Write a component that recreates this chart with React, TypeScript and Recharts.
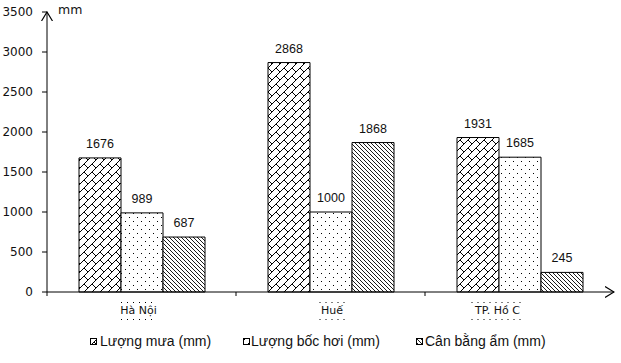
import { BarChart, Bar, XAxis, YAxis, LabelList } from "recharts";

const cities = ["Hà Nội", "Huế", "TP. Hồ C"];
const rainfall = [1676, 2868, 1931];
const evaporation = [989, 1000, 1685];
const balance = [687, 1868, 245];
const yTicks = [0, 500, 1000, 1500, 2000, 2500, 3000, 3500];

const seriesNames = ["Lượng mưa (mm)", "Lượng bốc hơi (mm)", "Cân bằng ẩm (mm)"];

const data = cities.map((city, i) => ({
  city,
  rain: rainfall[i],
  evap: evaporation[i],
  bal: balance[i],
}));

// label tweaks to follow the original picture
const LABEL_SHIFT = [-3, 1.5, -22];
const LABEL_WIDTH = [35, 25, 52];
const HALF_BAND = 94.5;
const FONT = "DejaVu Sans";
const VALUE_FONT = "'Liberation Sans'";

function CityTick(props: any) {
  const { x, y, payload, index } = props;
  const cx = x + (LABEL_SHIFT[index] ?? 0);
  const w = LABEL_WIDTH[index] ?? 30;
  return (
    <g>
      <line x1={x - HALF_BAND} x2={x - HALF_BAND} y1={y} y2={y + 4} stroke="#000" />
      <line x1={cx - w / 2} x2={cx + w / 2} y1={y + 10.5} y2={y + 10.5} stroke="#000" strokeDasharray="1 5" />
      <line x1={cx - w / 2} x2={cx + w / 2} y1={y + 27.5} y2={y + 27.5} stroke="#000" strokeDasharray="1 5" />
      <text x={cx} y={y + 22} textAnchor="middle" fontSize={11} fontFamily={FONT} fill="#111">
        {payload.value}
      </text>
    </g>
  );
}

function Swatch({ fill }: { fill: string }) {
  return (
    <svg width={8} height={8} style={{ display: "block" }}>
      <rect x={0.5} y={0.5} width={6} height={6} fill={fill} stroke="#000" strokeWidth={1} />
    </svg>
  );
}

const fills = ["url(#brick)", "url(#dots)", "url(#hatch)"];
const legendPos = [
  { box: 90, text: 100 },
  { box: 243, text: 251 },
  { box: 416, text: 425 },
];

export default function App() {
  return (
    <div style={{ position: "absolute", left: 0, top: 0, width: 621, height: 363, background: "#fff", fontFamily: FONT }}>
      <svg width={0} height={0} style={{ position: "absolute" }}>
        <defs>
          <pattern id="brick" width={8} height={8} patternUnits="userSpaceOnUse">
            <rect width={8} height={8} fill="#fff" />
            <path d="M0,8 L8,0 M-1,1 L1,-1 M7,9 L9,7 M4,4 L8,8" stroke="#000" strokeWidth={1} />
          </pattern>
          <pattern id="dots" width={8} height={8} patternUnits="userSpaceOnUse">
            <rect width={8} height={8} fill="#fff" />
            <rect x={1} y={1} width={1} height={1} fill="#000" />
            <rect x={5} y={5} width={1} height={1} fill="#000" />
          </pattern>
          <pattern id="hatch" width={4} height={4} patternUnits="userSpaceOnUse">
            <rect width={4} height={4} fill="#fff" />
            <path d="M0,0 L4,4 M-1,3 L1,5 M3,-1 L5,1" stroke="#000" strokeWidth={0.9} />
          </pattern>
          <marker id="arrow" viewBox="0 0 10 12" refX={9} refY={6} markerWidth={10} markerHeight={12} markerUnits="userSpaceOnUse" orient="auto-start-reverse">
            <path d="M0,0.5 L9,6 L0,11.5" fill="none" stroke="#000" strokeWidth={1.2} />
          </marker>
        </defs>
      </svg>

      <BarChart
        width={621}
        height={363}
        data={data}
        margin={{ top: 12, right: 7, left: 0, bottom: 41 }}
        barGap={0}
        barSize={42}
      >
        <XAxis
          dataKey="city"
          height={30}
          tickSize={0}
          tickMargin={0}
          tickLine={false}
          axisLine={{ stroke: "#000", markerEnd: "url(#arrow)" } as any}
          tick={<CityTick />}
          interval={0}
        />
        <YAxis
          width={47}
          domain={[0, 3500]}
          ticks={yTicks}
          interval={0}
          tickSize={5}
          tickMargin={9}
          tickLine={{ stroke: "#000" }}
          axisLine={{ stroke: "#000", markerStart: "url(#arrow)" } as any}
          tick={{ fontSize: 12, fill: "#111", fontFamily: FONT }}
        />
        <Bar dataKey="rain" name={seriesNames[0]} fill={fills[0]} stroke="#000" strokeWidth={1} isAnimationActive={false}>
          <LabelList dataKey="rain" position="top" offset={10} fontSize={12.5} fill="#111" fontFamily={VALUE_FONT} />
        </Bar>
        <Bar dataKey="evap" name={seriesNames[1]} fill={fills[1]} stroke="#000" strokeWidth={1} isAnimationActive={false}>
          <LabelList dataKey="evap" position="top" offset={10} fontSize={12.5} fill="#111" fontFamily={VALUE_FONT} />
        </Bar>
        <Bar dataKey="bal" name={seriesNames[2]} fill={fills[2]} stroke="#000" strokeWidth={1} isAnimationActive={false}>
          <LabelList dataKey="bal" position="top" offset={10} fontSize={12.5} fill="#111" fontFamily={VALUE_FONT} />
        </Bar>
      </BarChart>

      <div style={{ position: "absolute", left: 58, top: 2, fontSize: 12.5, color: "#111" }}>mm</div>

      {seriesNames.map((name, i) => (
        <div key={name}>
          <div style={{ position: "absolute", left: legendPos[i].box, top: 338 }}>
            <Swatch fill={fills[i]} />
          </div>
          <div style={{ position: "absolute", left: legendPos[i].text, top: 333, fontSize: 14, fontFamily: "'Liberation Sans'", color: "#111", whiteSpace: "nowrap" }}>
            {name}
          </div>
        </div>
      ))}
    </div>
  );
}
